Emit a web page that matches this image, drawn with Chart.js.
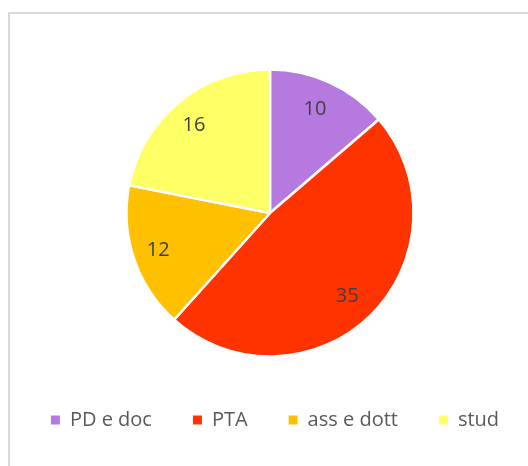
<!DOCTYPE html>
<html>
<head>
<meta charset="utf-8">
<script src="https://cdn.jsdelivr.net/npm/chart.js@4/dist/chart.umd.min.js"></script>
<style>
  html, body { margin: 0; padding: 0; width: 528px; height: 466px; overflow: hidden; background: #fff; }
  #frame { position: absolute; left: 8px; top: 12px; width: 560px; height: 500px; border: 2px solid #D9D9D9; box-sizing: border-box; }
  #wrap { position: absolute; left: -10px; top: 13px; width: 560px; height: 453px; }
</style>
</head>
<body>
<div id="frame"></div>
<div id="wrap"><canvas id="c" width="560" height="453"></canvas></div>
<script>
const categories = ["PD e doc", "PTA", "ass e dott", "stud"];
const values = [10, 35, 12, 16];
const colors = ["#B679E0", "#FF3300", "#FFC000", "#FFFF66"];

const valueLabels = {
  id: 'valueLabels',
  afterLayout(chart) {
    if (chart.legend) { chart.legend.left += 5; chart.legend.right += 5; }
  },
  afterDatasetsDraw(chart) {
    const ctx = chart.ctx;
    const meta = chart.getDatasetMeta(0);
    ctx.save();
    ctx.font = '20px "Open Sans"';
    ctx.fillStyle = '#404040';
    ctx.textAlign = 'center';
    ctx.textBaseline = 'middle';
    meta.data.forEach((arc, i) => {
      const p = arc.getProps(['x', 'y', 'startAngle', 'endAngle', 'outerRadius'], true);
      const mid = (p.startAngle + p.endAngle) / 2;
      const r = p.outerRadius * 0.8;
      ctx.fillText(String(chart.data.datasets[0].data[i]), p.x + Math.cos(mid) * r - 3, p.y + Math.sin(mid) * r + 1);
    });
    ctx.restore();
  }
};

const baseGen = Chart.controllers.pie.overrides.plugins.legend.labels.generateLabels;

new Chart(document.getElementById('c'), {
  type: 'pie',
  data: {
    labels: categories,
    datasets: [{
      data: values,
      backgroundColor: colors,
      borderColor: '#FFFFFF',
      borderWidth: 2.5,
      radius: 143.5
    }]
  },
  options: {
    responsive: false,
    animation: false,
    layout: { padding: { top: 44, bottom: 26, left: 0, right: 0 } },
    plugins: {
      tooltip: { enabled: false },
      legend: {
        position: 'bottom',
        labels: {
          boxWidth: 9,
          boxHeight: 9,
          padding: 41,
          color: '#595959',
          font: { family: '"Open Sans"', size: 20 },
          generateLabels(chart) {
            return baseGen(chart).map(it => Object.assign(it, { lineWidth: 0, strokeStyle: it.fillStyle }));
          }
        }
      }
    }
  },
  plugins: [valueLabels]
});
</script>
</body>
</html>
